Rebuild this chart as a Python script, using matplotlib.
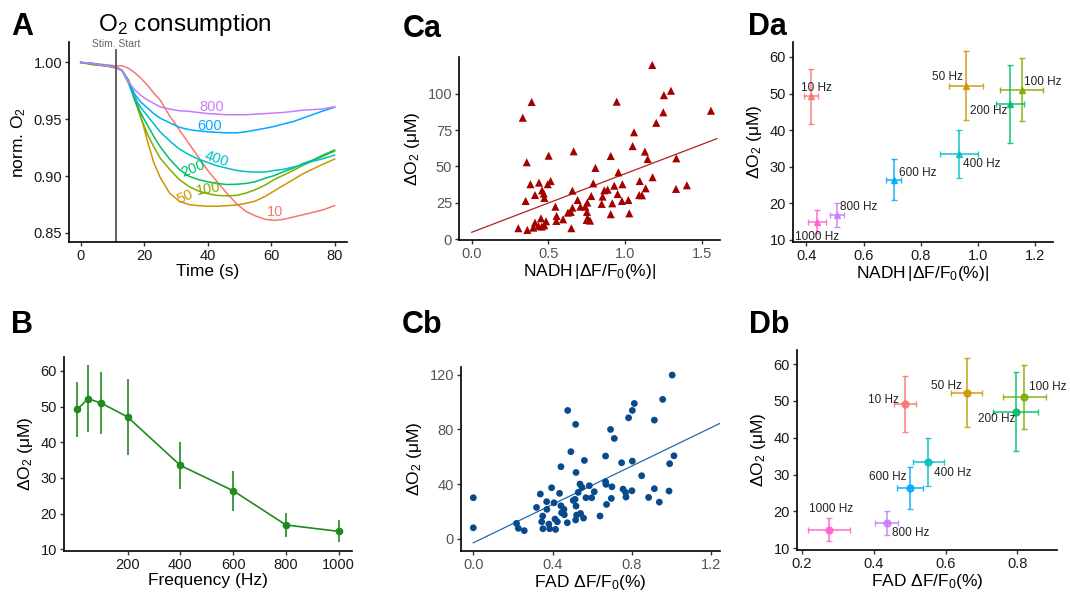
import numpy as np
import matplotlib
matplotlib.use("Agg")
import matplotlib.pyplot as plt

plt.rcParams['font.family'] = ['Liberation Sans', 'DejaVu Sans']
plt.rcParams['mathtext.fontset'] = 'custom'
plt.rcParams['mathtext.rm'] = 'Liberation Sans'
plt.rcParams['mathtext.it'] = 'Liberation Sans:italic'

# ---- panel A: normalised O2 traces ----
time_s = [0, 4, 8, 11, 13, 15, 17, 19, 21, 23, 25, 28, 31, 34, 37, 40, 43,
          46, 49, 52, 55, 58, 61, 64, 67, 70, 73, 76, 80]
trace_10 = [1.000, 0.999, 0.998, 0.997, 0.997, 0.995, 0.991, 0.986, 0.980, 0.973,
            0.967, 0.953, 0.941, 0.929, 0.917, 0.905, 0.895, 0.885, 0.876, 0.869,
            0.865, 0.862, 0.861, 0.862, 0.864, 0.866, 0.868, 0.870, 0.874]
trace_50 = [1.000, 0.998, 0.997, 0.995, 0.993, 0.985, 0.972, 0.952, 0.931, 0.912,
            0.899, 0.885, 0.878, 0.875, 0.874, 0.8735, 0.8735, 0.874, 0.8745, 0.876,
            0.878, 0.882, 0.887, 0.892, 0.897, 0.902, 0.906, 0.910, 0.915]
trace_100 = [1.000, 0.998, 0.997, 0.996, 0.993, 0.984, 0.967, 0.951, 0.937, 0.926,
             0.916, 0.906, 0.897, 0.891, 0.887, 0.8845, 0.883, 0.8826, 0.883, 0.885,
             0.888, 0.892, 0.897, 0.901, 0.905, 0.9095, 0.9135, 0.917, 0.922]
trace_200 = [1.000, 0.999, 0.997, 0.996, 0.993, 0.983, 0.967, 0.955, 0.945, 0.935,
             0.926, 0.915, 0.906, 0.900, 0.897, 0.895, 0.8935, 0.8926, 0.8928, 0.8935,
             0.895, 0.898, 0.9005, 0.904, 0.907, 0.911, 0.914, 0.918, 0.923]
trace_400 = [1.000, 0.999, 0.997, 0.996, 0.993, 0.982, 0.969, 0.960, 0.953, 0.946,
             0.939, 0.931, 0.924, 0.919, 0.915, 0.912, 0.909, 0.907, 0.905, 0.904,
             0.9035, 0.9035, 0.905, 0.906, 0.908, 0.910, 0.913, 0.915, 0.9185]
trace_600 = [1.000, 0.999, 0.997, 0.996, 0.993, 0.983, 0.972, 0.965, 0.960, 0.955,
             0.951, 0.947, 0.943, 0.941, 0.9398, 0.939, 0.9385, 0.938, 0.938, 0.939,
             0.9405, 0.942, 0.9437, 0.946, 0.948, 0.951, 0.954, 0.957, 0.9606]
trace_800 = [1.000, 0.999, 0.997, 0.996, 0.993, 0.983, 0.976, 0.971, 0.967, 0.964,
             0.961, 0.959, 0.9575, 0.957, 0.956, 0.955, 0.9545, 0.954, 0.954, 0.954,
             0.9545, 0.955, 0.9555, 0.956, 0.957, 0.958, 0.9585, 0.959, 0.961]
stim_start = 11.2

# curve label anchors (time, norm O2, rotation)
trace_labels = {
    '800': (41.3, 0.9612, 0), '600': (40.5, 0.9444, 0), '400': (42.8, 0.9147, -18),
    '200': (35.5, 0.9068, 22), '100': (40.2, 0.889, 10), '50': (32.9, 0.8818, 25),
    '10': (61.2, 0.868, 0),
}

# ---- frequency summary (B, Da, Db) ----
freq_hz = [10, 50, 100, 200, 400, 600, 800, 1000]
dO2_mean = [49.2, 52.2, 51.0, 47.1, 33.5, 26.4, 16.8, 15.0]
dO2_sem = [7.6, 9.4, 8.6, 10.6, 6.5, 5.6, 3.3, 3.1]

nadh_mean = [0.415, 0.959, 1.153, 1.112, 0.933, 0.705, 0.507, 0.436]
nadh_sem = [0.025, 0.060, 0.074, 0.050, 0.067, 0.026, 0.026, 0.031]
nadh_lab_x = [0.435, 0.895, 1.226, 1.037, 1.013, 0.788, 0.584, 0.437]
nadh_lab_y = [51.6, 54.4, 53.2, 45.2, 30.6, 28.2, 19.1, 10.7]

fad_mean = [0.487, 0.658, 0.819, 0.795, 0.552, 0.501, 0.436, 0.276]
fad_sem = [0.030, 0.043, 0.060, 0.063, 0.044, 0.036, 0.032, 0.058]
fad_lab_x = [0.428, 0.601, 0.884, 0.741, 0.621, 0.438, 0.502, 0.282]
fad_lab_y = [50.2, 54.0, 53.7, 45.0, 30.5, 29.4, 14.1, 20.6]

freq_colors = ['#F8766D', '#CD9600', '#7CAE00', '#00BE67', '#00BFC4',
               '#00A9FF', '#C77CFF', '#FF61CC']

# ---- Ca: NADH vs dO2 scatter ----
nadh_x = [0.333, 0.391, 0.359, 0.352, 0.383, 0.413, 0.439, 0.459, 0.470, 0.474,
          0.496, 0.515, 0.502, 0.452, 0.413, 0.435, 0.402, 0.363, 0.304, 0.457,
          0.474, 0.485, 0.546, 0.554, 0.552, 0.596, 0.628, 0.646, 0.650, 0.657,
          0.691, 0.657, 0.665, 0.709, 0.741, 0.754, 0.752, 0.757, 0.750, 0.780,
          0.772, 0.793, 0.807, 0.848, 0.854, 0.865, 0.887, 0.907, 0.917, 0.907,
          0.930, 0.946, 0.952, 0.957, 0.980, 0.983, 1.022, 1.028, 1.050, 1.059,
          1.093, 1.096, 1.111, 1.130, 1.135, 1.148, 1.178, 1.180, 1.204, 1.250,
          1.254, 1.300, 1.335, 1.333, 1.404, 1.561]
nadh_y = [83.5, 94.3, 52.9, 26.3, 37.8, 30.4, 38.9, 33.6, 31.4, 28.4,
          37.8, 40.0, 57.4, 14.4, 11.4, 9.2, 8.0, 6.4, 7.6, 8.7,
          9.6, 12.4, 22.4, 16.0, 12.6, 13.7, 18.3, 18.8, 7.6, 21.7,
          27.0, 33.4, 60.4, 22.4, 22.4, 25.2, 18.8, 14.4, 13.3, 29.7,
          12.8, 38.4, 49.0, 24.3, 29.3, 33.6, 34.1, 57.2, 24.7, 17.2,
          36.8, 94.5, 31.1, 46.0, 26.3, 37.8, 27.0, 17.8, 64.0, 73.5,
          30.4, 40.0, 30.2, 60.2, 35.0, 55.1, 119.7, 42.6, 80.0, 87.2,
          99.0, 102.0, 55.6, 34.6, 37.1, 88.3]
nadh_fit = (4.8, 40.2)   # intercept, slope
nadh_fit_range = (0.0, 1.6)

# ---- Cb: FAD vs dO2 scatter ----
fad_x = [0.0, 0.0, 0.218, 0.227, 0.257, 0.319, 0.338, 0.350, 0.345, 0.351,
         0.370, 0.371, 0.381, 0.385, 0.395, 0.407, 0.412, 0.415, 0.424, 0.435,
         0.442, 0.442, 0.445, 0.457, 0.459, 0.474, 0.476, 0.492, 0.504, 0.516,
         0.518, 0.513, 0.518, 0.521, 0.516, 0.529, 0.538, 0.541, 0.548, 0.560,
         0.556, 0.568, 0.585, 0.597, 0.610, 0.639, 0.667, 0.667, 0.672, 0.669,
         0.692, 0.699, 0.696, 0.711, 0.748, 0.755, 0.768, 0.770, 0.783, 0.802,
         0.812, 0.802, 0.800, 0.849, 0.884, 0.913, 0.913, 0.938, 0.955, 0.987,
         0.990, 1.012, 1.003]
fad_y = [30.0, 8.0, 11.2, 7.6, 5.9, 22.9, 32.7, 16.6, 12.4, 7.3,
         27.1, 21.5, 10.7, 7.3, 37.3, 26.3, 14.4, 6.8, 12.4, 33.2,
         52.7, 24.1, 19.0, 21.5, 17.6, 11.7, 93.9, 63.7, 28.0, 83.7,
         48.5, 28.8, 23.9, 17.3, 13.7, 33.9, 40.0, 18.5, 37.6, 57.3,
         15.1, 30.0, 38.8, 30.0, 34.4, 16.6, 60.5, 41.7, 25.1, 39.8,
         80.0, 38.0, 29.5, 73.4, 55.6, 36.3, 33.9, 30.5, 88.5, 93.9,
         99.0, 56.8, 35.1, 46.1, 30.2, 86.8, 36.6, 26.8, 102.0, 34.9,
         54.9, 60.7, 119.8]
fad_fit = (-3.0, 70.3)
fad_fit_range = (0.0, 1.26)

DO2_LABEL = 'ΔO$_2$ (μM)'
NADH_LABEL = r'NADH$\,|$ΔF/F$_0$(%)$|$'
FAD_LABEL = 'FAD ΔF/F$_0$(%)'

W, H = 1070, 603


def place(fig, left, right, top, bottom):
    return fig.add_axes([left / W, 1 - bottom / H, (right - left) / W, (bottom - top) / H])


def style(ax, tick_color='#1a1a1a'):
    for s in ['top', 'right']:
        ax.spines[s].set_visible(False)
    for s in ['left', 'bottom']:
        ax.spines[s].set_linewidth(1.2)
        ax.spines[s].set_color('black')
    ax.tick_params(length=3, width=1, color='#333333', labelsize=10.5,
                   labelcolor=tick_color, pad=2)


fig = plt.figure(figsize=(10.7, 6.03), dpi=100)

# ---- A ----
ax = place(fig, 69, 347, 42, 242)
traces = [trace_10, trace_50, trace_100, trace_200, trace_400, trace_600, trace_800]
for vals, col in zip(traces, freq_colors[:7]):
    ax.plot(time_s, vals, color=col, lw=1.1)
ax.axvline(stim_start, ymax=0.96, color='#555555', lw=1.3)
ax.text(stim_start, 1.0165, 'Stim. Start', ha='center', va='center',
        fontsize=7.5, color='#666666')
lab_colors = dict(zip(['10', '50', '100', '200', '400', '600', '800'], freq_colors[:7]))
for k, (tx, ty, rot) in trace_labels.items():
    ax.text(tx, ty, k, color=lab_colors[k], fontsize=10.5, ha='center', va='center',
            rotation=rot)
ax.set_xlim(-3.7, 83.9)
ax.set_ylim(0.842, 1.018)
ax.set_xticks([0, 20, 40, 60, 80])
ax.set_yticks([0.85, 0.90, 0.95, 1.00])
ax.set_yticklabels(['0.85', '0.90', '0.95', '1.00'])
style(ax)
ax.set_xlabel('Time (s)', fontsize=12.5, labelpad=1)
ax.set_ylabel('norm. O$_2$', fontsize=12.5, labelpad=4)
fig.text(185 / W, 1 - 31 / H, 'O$_2$ consumption', fontsize=17.5, ha='center', va='baseline')

# ---- B ----
ax = place(fig, 64, 352, 357, 551)
ax.errorbar(freq_hz, dO2_mean, yerr=dO2_sem, color='#1F8B1F', lw=1.2, marker='o',
            ms=4.5, elinewidth=1.2, capsize=0)
ax.set_xlim(-40.5, 1050)
ax.set_ylim(9.5, 63.9)
ax.set_xticks([200, 400, 600, 800, 1000])
ax.set_yticks([10, 20, 30, 40, 50, 60])
style(ax)
ax.set_xlabel('Frequency (Hz)', fontsize=12.5, labelpad=1)
ax.set_ylabel(DO2_LABEL, fontsize=12.5, labelpad=4)

# ---- Ca ----
ax = place(fig, 459, 720, 57, 240)
ax.scatter(nadh_x, nadh_y, marker='^', s=34, color='#A30000', edgecolors='none', zorder=3)
fx = np.array(nadh_fit_range)
ax.plot(fx, nadh_fit[0] + nadh_fit[1] * fx, color='#B22222', lw=0.9, zorder=2)
ax.set_xlim(-0.083, 1.62)
ax.set_ylim(-0.5, 125.2)
ax.set_xticks([0, 0.5, 1.0, 1.5])
ax.set_xticklabels(['0.0', '0.5', '1.0', '1.5'])
ax.set_yticks([0, 25, 50, 75, 100])
style(ax, '#555555')
ax.set_xlabel(NADH_LABEL, fontsize=12.5, labelpad=1)
ax.set_ylabel(DO2_LABEL, fontsize=12.5, labelpad=4)

# ---- Cb ----
ax = place(fig, 461, 720, 367, 551)
ax.scatter(fad_x, fad_y, marker='o', s=24, color='#084A8C', edgecolors='none', zorder=3)
fx = np.array(fad_fit_range)
ax.plot(fx, fad_fit[0] + fad_fit[1] * fx, color='#2A67A8', lw=0.9, zorder=2)
ax.set_xlim(-0.062, 1.244)
ax.set_ylim(-9.0, 125.7)
ax.set_xticks([0, 0.4, 0.8, 1.2])
ax.set_xticklabels(['0.0', '0.4', '0.8', '1.2'])
ax.set_yticks([0, 40, 80, 120])
style(ax, '#555555')
ax.set_xlabel(FAD_LABEL, fontsize=12.5, labelpad=1)
ax.set_ylabel(DO2_LABEL, fontsize=12.5, labelpad=4)


def freq_panel(ax, xm, xe, lx, ly, marker):
    for i in range(len(freq_hz)):
        c = freq_colors[i]
        ax.errorbar(xm[i], dO2_mean[i], xerr=xe[i], yerr=dO2_sem[i], color=c,
                    ecolor=c, elinewidth=1.2, capsize=2, capthick=1.0, alpha=0.85,
                    marker=marker, ms=5, ls='none')
        ax.text(lx[i], ly[i], f'{freq_hz[i]} Hz', fontsize=8.5, color='#222222',
                ha='center', va='center')


# ---- Da ----
ax = place(fig, 793, 1053, 42, 242)
freq_panel(ax, nadh_mean, nadh_sem, nadh_lab_x, nadh_lab_y, '^')
ax.set_xlim(0.353, 1.263)
ax.set_ylim(9.4, 64.1)
ax.set_xticks([0.4, 0.6, 0.8, 1.0, 1.2])
ax.set_xticklabels(['0.4', '0.6', '0.8', '1.0', '1.2'])
ax.set_yticks([10, 20, 30, 40, 50, 60])
style(ax)
ax.set_xlabel(NADH_LABEL, fontsize=12.5, labelpad=1)
ax.set_ylabel(DO2_LABEL, fontsize=12.5, labelpad=4)

# ---- Db ----
ax = place(fig, 797, 1057, 350, 550)
freq_panel(ax, fad_mean, fad_sem, fad_lab_x, fad_lab_y, 'o')
ax.set_xlim(0.186, 0.91)
ax.set_ylim(9.55, 63.8)
ax.set_xticks([0.2, 0.4, 0.6, 0.8])
ax.set_yticks([10, 20, 30, 40, 50, 60])
style(ax)
ax.set_xlabel(FAD_LABEL, fontsize=12.5, labelpad=1)
ax.set_ylabel(DO2_LABEL, fontsize=12.5, labelpad=4)

# panel letters
for txt, x, y in [('A', 11, 35), ('B', 11, 333), ('Ca', 403, 37), ('Cb', 402, 333),
                  ('Da', 748, 35), ('Db', 749, 333)]:
    fig.text(x / W, 1 - y / H, txt, fontsize=22, fontweight='bold', va='baseline')

fig.savefig('out.png', dpi=100)
